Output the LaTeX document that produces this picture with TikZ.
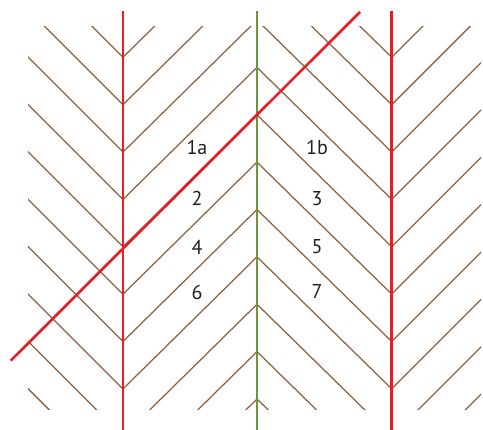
\documentclass[tikz,border=0pt]{standalone}
\usepackage{fontspec}
\setmainfont{PT Sans}
\definecolor{redline}{RGB}{237,28,36}
\definecolor{greenline}{RGB}{106,152,56}
\definecolor{brownline}{RGB}{140,98,66}
\begin{document}
\begin{tikzpicture}[x=1pt, y=-1pt,
barb/.style={draw=brownline, line width=1.25pt},
axis/.style={line width=2.6pt},
lbl/.style={font=\fontsize{20}{24}\selectfont, text=black!88, inner sep=0pt}]
\useasboundingbox (0,0) rectangle (483,430);
% ends of the three upright lines and the slanted one
\coordinate (lefttop) at (123,11);   \coordinate (leftbot) at (123,430);
\coordinate (midtop) at (257,11);    \coordinate (midbot) at (257,430);
\coordinate (righttop) at (391.7,11); \coordinate (rightbot) at (391.7,430);
\coordinate (slantlow) at (10.7,360.7); \coordinate (slanthigh) at (360,12);
% chevrons
\begin{scope}
\clip (28,27) rectangle (481,410);
\foreach \k in {-4,...,10}{
  \pgfmathsetmacro{\yk}{57.3+47.37*\k}
  \draw[barb] (123,\yk) -- ++(-160,-160);
  \draw[barb] (123,\yk) -- (257,\yk-132) -- (391.7,\yk);
  \draw[barb] (391.7,\yk) -- ++(160,-160);
}
\end{scope}
\draw[axis,draw=redline] (lefttop) -- (leftbot);
\draw[axis,draw=greenline] (midtop) -- (midbot);
\draw[axis,draw=redline] (righttop) -- (rightbot);
\draw[axis,draw=redline] (slantlow) -- (slanthigh);
% numbers
\node[lbl] (n1a) at (197,147) {1a};
\node[lbl] (n2) at (197,198.5) {2};
\node[lbl] (n4) at (197,247) {4};
\node[lbl] (n6) at (197,293) {6};
\node[lbl] (n1b) at (317,147) {1b};
\node[lbl] (n3) at (317,198.5) {3};
\node[lbl] (n5) at (317,247) {5};
\node[lbl] (n7) at (317,292) {7};
\end{tikzpicture}
\end{document}
